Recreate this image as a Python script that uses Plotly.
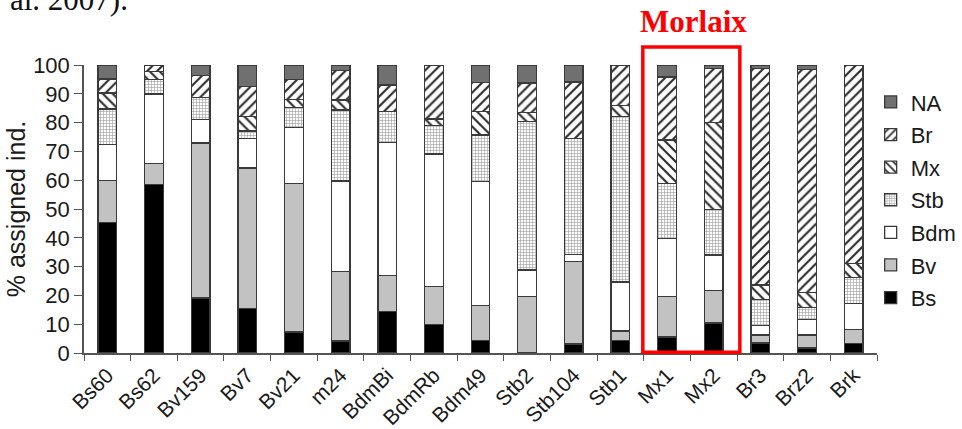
import plotly.graph_objects as go

categories = ["Bs60", "Bs62", "Bv159", "Bv7", "Bv21", "m24", "BdmBi", "BdmRb", "Bdm49",
              "Stb2", "Stb104", "Stb1", "Mx1", "Mx2", "Br3", "Brz2", "Brk"]

Bs  = [45.4, 58.6, 19.1, 15.4, 7.3, 4.2, 14.5, 9.9, 4.4, 0.0, 3.1, 4.4, 5.6, 10.4, 3.5, 1.7, 3.2]
Bv  = [14.6, 7.3, 53.8, 48.8, 51.6, 24.0, 12.3, 13.1, 12.0, 19.5, 28.6, 3.2, 14.1, 11.4, 2.7, 4.5, 5.0]
Bdm = [12.3, 24.0, 8.1, 10.4, 19.4, 31.5, 46.4, 46.1, 43.1, 9.3, 2.5, 17.1, 20.1, 12.2, 3.4, 5.4, 8.9]
Stb = [12.4, 5.0, 7.7, 2.5, 6.9, 24.7, 10.7, 9.9, 16.2, 51.6, 40.4, 57.4, 19.1, 15.9, 9.0, 4.2, 9.0]
Mx  = [5.6, 2.9, 0.0, 5.0, 2.8, 3.5, 0.0, 2.3, 8.2, 3.2, 0.0, 3.8, 15.1, 30.1, 5.0, 5.2, 5.0]
Br  = [4.8, 2.2, 7.7, 10.5, 7.0, 10.1, 9.2, 18.7, 10.1, 10.1, 19.5, 14.1, 21.8, 18.9, 75.3, 77.4, 68.9]
NA  = [4.9, 0.0, 3.6, 7.4, 5.0, 2.0, 6.9, 0.0, 6.0, 6.3, 5.9, 0.0, 4.2, 1.1, 1.1, 1.6, 0.0]

y_ticks = [0, 10, 20, 30, 40, 50, 60, 70, 80, 90, 100]
highlight = ["Mx1", "Mx2"]

series = [
    ("Bs", Bs, dict(color="#000000")),
    ("Bv", Bv, dict(color="#c2c2c2")),
    ("Bdm", Bdm, dict(color="#ffffff")),
    ("Stb", Stb, dict(color="#ffffff", pattern=dict(shape="+", fgcolor="#9a9a9a", bgcolor="#ffffff",
                                                    size=3, solidity=0.35, fillmode="replace"))),
    ("Mx", Mx, dict(color="#ffffff", pattern=dict(shape="\\", fgcolor="#2a2a2a", bgcolor="#ffffff",
                                                  size=7, solidity=0.3, fillmode="replace"))),
    ("Br", Br, dict(color="#ffffff", pattern=dict(shape="/", fgcolor="#2a2a2a", bgcolor="#ffffff",
                                                  size=7, solidity=0.3, fillmode="replace"))),
    ("NA", NA, dict(color="#707070")),
]

fig = go.Figure()
n_series = len(series)
for k, (name, vals, mk) in enumerate(series):
    mk = dict(mk)
    mk["line"] = dict(color="#3a3a3a", width=1.3)
    fig.add_trace(go.Bar(x=categories, y=vals, name=name, marker=mk, width=0.4,
                         legendgroup=name, legendrank=n_series - k))

font_family = "Liberation Sans, Arial, Helvetica, sans-serif"

fig.update_layout(
    barmode="stack",
    width=962, height=429,
    margin=dict(l=84, r=85, t=65, b=76, autoexpand=False),
    paper_bgcolor="white", plot_bgcolor="white",
    font=dict(family=font_family, size=22, color="#1a1a1a"),
    legend=dict(x=0.992, y=0.944, xanchor="left", yanchor="top",
                traceorder="grouped", tracegroupgap=1,
                font=dict(size=22, color="#1a1a1a"), bgcolor="rgba(0,0,0,0)",
                itemwidth=30),
    showlegend=True,
)

fig.update_xaxes(
    type="category", tickangle=-45, showline=True, linecolor="#555555", linewidth=1.5,
    ticks="outside", ticklen=6, tickcolor="#555555", tickwidth=1.2, tickson="boundaries",
    showgrid=False, zeroline=False, tickfont=dict(size=21, color="#1a1a1a"),
    range=[-0.5, len(categories) - 0.5],
)
fig.update_yaxes(
    range=[0, 100], tickvals=y_ticks, showline=True, linecolor="#555555", linewidth=1.5,
    ticks="outside", ticklen=8, tickcolor="#555555", tickwidth=1.2, showgrid=False,
    zeroline=False, tickfont=dict(size=22, color="#1a1a1a"),
    title=dict(text="% assigned ind.", font=dict(size=25, color="#1a1a1a"), standoff=0),
)

i1 = categories.index(highlight[0])
i2 = categories.index(highlight[1])
fig.add_shape(type="rect", xref="x", yref="paper", x0=i1 - 0.52, x1=i2 + 0.56, y0=0.003, y1=1.0626,
              line=dict(color="#ff0000", width=3.5), fillcolor="rgba(0,0,0,0)", layer="above")

fig.add_annotation(text="<b>Morlaix</b>", xref="paper", yref="paper", x=0.769, y=1.083,
                   xanchor="center", yanchor="bottom", showarrow=False,
                   font=dict(family="Liberation Serif, Times New Roman, serif", size=31, color="#ff0000"))

fig.add_annotation(text="al. 2007).", xref="paper", yref="paper", x=-0.096, y=1.16,
                   xanchor="left", yanchor="bottom", showarrow=False,
                   font=dict(family="Liberation Serif, Times New Roman, serif", size=31, color="#111111"))

fig.write_html("out.html", config={"displayModeBar": False},
               post_script="document.body.style.margin='0';")
